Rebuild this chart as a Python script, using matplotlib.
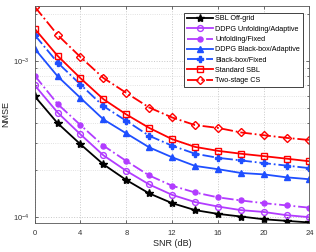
import numpy as np
import matplotlib
matplotlib.use('Agg')
import matplotlib.pyplot as plt
from matplotlib.ticker import LogLocator, NullFormatter

plt.rcParams['font.family'] = ['Liberation Sans', 'DejaVu Sans']

# ---- data --------------------------------------------------------------------
snr = [0, 2, 4, 6, 8, 10, 12, 14, 16, 18, 20, 22, 24]

sbl_offgrid = [5.95e-4, 4.0e-4, 2.93e-4, 2.18e-4, 1.73e-4, 1.42e-4, 1.23e-4,
               1.11e-4, 1.05e-4, 1.01e-4, 9.7e-5, 9.47e-5, 9.25e-5]
unf_adaptive = [7.0e-4, 4.68e-4, 3.39e-4, 2.49e-4, 1.98e-4, 1.62e-4, 1.39e-4,
                1.25e-4, 1.17e-4, 1.11e-4, 1.08e-4, 1.03e-4, 1.0e-4]
unf_fixed = [8.07e-4, 5.31e-4, 3.89e-4, 2.87e-4, 2.29e-4, 1.85e-4, 1.59e-4,
             1.44e-4, 1.34e-4, 1.28e-4, 1.23e-4, 1.19e-4, 1.15e-4]
bb_adaptive = [1.20e-3, 7.99e-4, 5.8e-4, 4.23e-4, 3.44e-4, 2.8e-4, 2.42e-4,
               2.13e-4, 2.03e-4, 1.92e-4, 1.88e-4, 1.80e-4, 1.75e-4]
bb_fixed = [1.47e-3, 9.77e-4, 7.07e-4, 5.14e-4, 4.14e-4, 3.32e-4, 2.87e-4,
            2.55e-4, 2.40e-4, 2.31e-4, 2.22e-4, 2.14e-4, 2.06e-4]
std_sbl = [1.61e-3, 1.08e-3, 7.76e-4, 5.7e-4, 4.55e-4, 3.73e-4, 3.16e-4,
           2.82e-4, 2.66e-4, 2.55e-4, 2.46e-4, 2.37e-4, 2.28e-4]
two_stage = [2.23e-3, 1.47e-3, 1.06e-3, 7.79e-4, 6.25e-4, 5.04e-4, 4.35e-4,
             3.89e-4, 3.73e-4, 3.49e-4, 3.35e-4, 3.22e-4, 3.12e-4]

labels = ['SBL Off-grid', 'DDPG Unfolding/Adaptive', 'Unfolding/Fixed',
          'DDPG Black-box/Adaptive', 'Black-box/Fixed', 'Standard SBL',
          'Two-stage CS']

# ---- styles ------------------------------------------------------------------
black, purple, blue, red = '#000000', '#B23CFF', '#1F4FFF', '#FF0000'
series = [
    (sbl_offgrid, black, '-', '*', 'full', 6.0),
    (unf_adaptive, purple, '-', 'o', 'none', 4.2),
    (unf_fixed, purple, '-.', 'o', 'full', 3.6),
    (bb_adaptive, blue, '-', '^', 'full', 4.6),
    (bb_fixed, blue, '-.', 'P', 'full', 4.6),
    (std_sbl, red, '-', 's', 'none', 4.0),
    (two_stage, red, '-.', 'D', 'none', 3.8),
]

fig = plt.figure(figsize=(3.16, 2.52), dpi=100)
ax = fig.add_axes([0.1098, 0.1163, 0.8696, 0.8597])

for (y, c, ls, mk, fill, ms), lab in zip(series, labels):
    ax.semilogy(snr, y, color=c, linestyle=ls, marker=mk, fillstyle=fill,
                markersize=ms, markeredgewidth=1.0, linewidth=1.3, label=lab)

ax.set_xlim(0, 24)
ax.set_ylim(9.22e-5, 2.25e-3)
ax.set_xticks(range(0, 25, 4))
ax.yaxis.set_major_locator(LogLocator(base=10))
ax.yaxis.set_minor_locator(LogLocator(base=10, subs=np.arange(2, 10)))
ax.yaxis.set_minor_formatter(NullFormatter())

ax.grid(True, which='major', color='#c8c8c8', linestyle=':', linewidth=0.7)
ax.grid(True, which='minor', axis='y', color='#d8d8d8', linestyle=':', linewidth=0.6)
ax.tick_params(which='both', direction='in', labelsize=5.5, colors='#333333',
               length=2.5, width=0.5, top=True, right=True)
ax.tick_params(which='minor', length=1.5)
ax.tick_params(axis='x', pad=5)
for s in ax.spines.values():
    s.set_color('#555555')
    s.set_linewidth(0.6)

ax.set_xlabel('SNR (dB)', fontsize=6.5, color='#222222', labelpad=2)
ax.set_ylabel('NMSE', fontsize=6.5, color='#222222', labelpad=2)

leg = ax.legend(loc='upper right', fontsize=5.2, handlelength=3.6,
                handletextpad=0.3, labelspacing=0.45, borderpad=0.4,
                borderaxespad=0.9, fancybox=False, framealpha=1,
                edgecolor='#222222')
leg.get_frame().set_linewidth(0.6)

fig.savefig('out.png', dpi=100)
